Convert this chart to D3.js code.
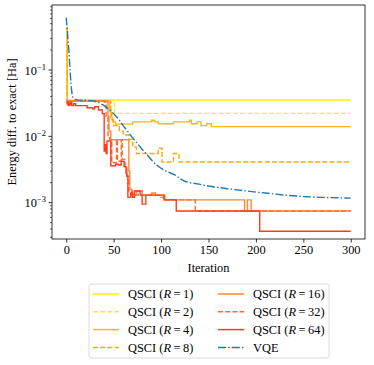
<!DOCTYPE html>
<html>
<head>
<meta charset="utf-8">
<script src="https://cdn.jsdelivr.net/npm/d3@7"></script>
<style>
  body { margin: 0; background: #fff; }
  svg { display: block; font-family: "Liberation Serif", "DejaVu Serif", serif; }
</style>
</head>
<body>
<script>
var shotLabels = [1, 2, 4, 8, 16, 32, 64];
var xTicks = [0, 50, 100, 150, 200, 250, 300];
var yTicks = [1e-3, 1e-2, 1e-1];
var yTickExp = ['\u22123', '\u22122', '\u22121'];

var qsciR1 = [[0, 0.43], [1, 0.0353], [300, 0.0353]];
var qsciR2 = [[0, 0.43], [1, 0.0348], [47, 0.0345], [51, 0.0222], [300, 0.0222]];
var qsciR4 = [[0, 0.43], [1, 0.0345], [45, 0.034], [46, 0.024], [47, 0.019], [49, 0.0165], [52, 0.0153],
  [70, 0.0165], [90, 0.0175], [93, 0.0165], [97, 0.0155], [113, 0.0165], [130, 0.0175], [132, 0.0155],
  [138, 0.0165], [142, 0.0145], [148, 0.0155], [153, 0.014], [300, 0.014]];
var qsciR8 = [[0, 0.43], [1, 0.034], [46, 0.033], [47, 0.025], [48, 0.018], [50, 0.0145], [56, 0.012],
  [60, 0.0105], [66, 0.009], [70, 0.0069], [74, 0.0055], [97, 0.0066], [101, 0.0041], [113, 0.0055],
  [119, 0.0041], [300, 0.0041]];
var qsciR16 = [[0, 0.034], [43, 0.033], [44, 0.02], [45, 0.012], [47, 0.0089], [65, 0.0089], [66, 0.003],
  [67, 0.0016], [69, 0.0013], [74, 0.0015], [80, 0.0013], [90, 0.0014], [94, 0.0013], [104, 0.0011],
  [188, 0.00075], [191, 0.0011], [195, 0.00075], [300, 0.00075]];
var qsciR32 = [[0, 0.034], [40, 0.033], [42, 0.02], [44, 0.0095], [46, 0.0089], [48, 0.004], [53, 0.0089],
  [54, 0.0042], [58, 0.0089], [59, 0.0045], [62, 0.0035], [64, 0.0025], [66, 0.0015], [70, 0.0013],
  [76, 0.0015], [80, 0.0013], [100, 0.0012], [103, 0.0011], [136, 0.00075], [300, 0.00075]];
var qsciR64 = [[0, 0.031], [1, 0.033], [2, 0.029], [3, 0.032], [4, 0.03], [5, 0.033], [6, 0.029], [8, 0.031],
  [10, 0.029], [22, 0.027], [28, 0.026], [30, 0.028], [34, 0.025], [38, 0.022], [40, 0.006], [41, 0.0075],
  [42, 0.0055], [43, 0.0085], [47, 0.0036], [52, 0.0038], [55, 0.0037], [58, 0.0042], [61, 0.0035],
  [63, 0.0028], [64, 0.0025], [65, 0.0012], [68, 0.0014], [70, 0.0012], [72, 0.0015], [78, 0.0013],
  [80, 0.00095], [84, 0.0013], [103, 0.0011], [116, 0.00075], [204, 0.00037], [300, 0.00037]];
var vqe = [[0, 0.62], [1, 0.42], [2, 0.27], [3, 0.18], [4, 0.1], [5, 0.062], [6, 0.045], [7, 0.039],
  [9, 0.036], [12, 0.0355], [20, 0.035], [28, 0.0345], [35, 0.032], [40, 0.029], [46, 0.025], [50, 0.022],
  [55, 0.0185], [60, 0.0145], [65, 0.0118], [70, 0.0095], [75, 0.0078], [80, 0.0064], [85, 0.0053],
  [90, 0.0044], [95, 0.0037], [100, 0.0033], [105, 0.003], [110, 0.0028], [115, 0.0026], [120, 0.0023],
  [125, 0.0021], [130, 0.002], [140, 0.0019], [150, 0.00178], [160, 0.0017], [170, 0.00162],
  [180, 0.00156], [190, 0.0015], [200, 0.00144], [210, 0.0014], [220, 0.00135], [230, 0.0013],
  [240, 0.00127], [250, 0.00124], [260, 0.00122], [270, 0.0012], [280, 0.00119], [290, 0.00118],
  [300, 0.00117]];

var qsciData = [qsciR1, qsciR2, qsciR4, qsciR8, qsciR16, qsciR32, qsciR64];
var qsciColors = ['#ffee00', '#ffe433', '#ffb41a', '#ffaa00', '#ff8833', '#ff6c33', '#ff3a1e'];
var qsciDashed = [false, true, false, true, false, true, false];
var vqeColor = '#1f77b4';

var width = 374, height = 365;
var plotLeft = 52, plotRight = 365, plotTop = 5, plotBottom = 239;
var fontSize = 12.4;

var svg = d3.select('body').append('svg')
    .attr('width', width)
    .attr('height', height);

var x = d3.scaleLinear().domain([-15, 315]).range([plotLeft, plotRight]);
var y = d3.scaleLog().domain([Math.pow(10, -3.548), Math.pow(10, -0.0196)]).range([plotBottom, plotTop]);

svg.append('clipPath').attr('id', 'clip')
  .append('rect')
    .attr('x', plotLeft).attr('y', plotTop)
    .attr('width', plotRight - plotLeft).attr('height', plotBottom - plotTop);

// x axis
var xAxis = svg.append('g')
    .attr('transform', 'translate(0,' + plotBottom + ')')
    .call(d3.axisBottom(x).tickValues(xTicks).tickSize(3.5).tickPadding(3));
xAxis.select('.domain').remove();
xAxis.selectAll('line').attr('stroke', '#000').attr('stroke-width', 0.8);
xAxis.selectAll('text').attr('font-size', fontSize).attr('font-family', '"Liberation Serif", serif').attr('fill', '#000');

// y axis: minor ticks then major ones with 10^n labels
var minor = [];
[-4, -3, -2, -1].forEach(function (e) {
    for (var m = 2; m <= 9; m++) {
        var v = m * Math.pow(10, e);
        if (v >= y.domain()[0] && v <= y.domain()[1]) minor.push(v);
    }
});
var yg = svg.append('g');
yg.selectAll('line.minor')
    .data(minor)
    .enter().append('line')
    .attr('class', 'minor')
    .attr('x1', plotLeft).attr('x2', plotLeft - 2)
    .attr('y1', function (d) { return y(d); })
    .attr('y2', function (d) { return y(d); })
    .attr('stroke', '#000').attr('stroke-width', 0.6);
yg.selectAll('line.major')
    .data(yTicks)
    .enter().append('line')
    .attr('class', 'major')
    .attr('x1', plotLeft).attr('x2', plotLeft - 3.5)
    .attr('y1', function (d) { return y(d); })
    .attr('y2', function (d) { return y(d); })
    .attr('stroke', '#000').attr('stroke-width', 0.8);
var yLab = yg.selectAll('text')
    .data(yTicks)
    .enter().append('text')
    .attr('x', plotLeft - 6)
    .attr('y', function (d) { return y(d) + 4.5; })
    .attr('text-anchor', 'end')
    .attr('font-size', fontSize);
yLab.append('tspan').text('10');
yLab.append('tspan')
    .attr('dy', -5)
    .attr('font-size', 8.5)
    .text(function (d, i) { return yTickExp[i]; });

// lines
var plot = svg.append('g').attr('clip-path', 'url(#clip)');
var stepLine = d3.line()
    .x(function (d) { return x(d[0]); })
    .y(function (d) { return y(d[1]); })
    .curve(d3.curveStepAfter);
var smoothLine = d3.line()
    .x(function (d) { return x(d[0]); })
    .y(function (d) { return y(d[1]); });

plot.selectAll('path.qsci')
    .data(qsciData)
    .enter().append('path')
    .attr('class', 'qsci')
    .attr('d', stepLine)
    .attr('fill', 'none')
    .attr('stroke', function (d, i) { return qsciColors[i]; })
    .attr('stroke-width', 1.4)
    .attr('stroke-dasharray', function (d, i) { return qsciDashed[i] ? '5,2.2' : null; });

plot.append('path')
    .datum(vqe)
    .attr('d', smoothLine)
    .attr('fill', 'none')
    .attr('stroke', vqeColor)
    .attr('stroke-width', 1.4)
    .attr('stroke-dasharray', '8,2.2,1.4,2.2');

// frame
svg.append('rect')
    .attr('x', plotLeft).attr('y', plotTop)
    .attr('width', plotRight - plotLeft).attr('height', plotBottom - plotTop)
    .attr('fill', 'none')
    .attr('stroke', '#000')
    .attr('stroke-width', 0.8);

// axis titles
svg.append('text')
    .attr('x', (plotLeft + plotRight) / 2)
    .attr('y', 272)
    .attr('text-anchor', 'middle')
    .attr('font-size', fontSize)
    .text('Iteration');
svg.append('text')
    .attr('transform', 'translate(16,' + ((plotTop + plotBottom) / 2) + ') rotate(-90)')
    .attr('text-anchor', 'middle')
    .attr('font-size', fontSize)
    .text('Energy diff. to exact [Ha]');

// legend
var legend = svg.append('g');
legend.append('rect')
    .attr('x', 89).attr('y', 284)
    .attr('width', 240).attr('height', 74)
    .attr('rx', 2.5)
    .attr('fill', '#fff')
    .attr('stroke', '#d0d0d0')
    .attr('stroke-width', 0.8);

var entries = shotLabels.map(function (r, i) {
    return { r: r, color: qsciColors[i], dash: qsciDashed[i] ? '5,2.2' : null };
});
entries.push({ r: null, color: vqeColor, dash: '8,2.2,1.4,2.2' });

var item = legend.selectAll('g.item')
    .data(entries)
    .enter().append('g')
    .attr('class', 'item')
    .attr('transform', function (d, i) {
        var col = i < 4 ? 0 : 1, row = i % 4;
        return 'translate(' + (col === 0 ? 93 : 218) + ',' + (294 + row * 17.8) + ')';
    });
item.append('line')
    .attr('x1', 0).attr('x2', 26)
    .attr('stroke', function (d) { return d.color; })
    .attr('stroke-width', 1.5)
    .attr('stroke-dasharray', function (d) { return d.dash; });
var label = item.append('text')
    .attr('x', 35)
    .attr('y', 4.3)
    .attr('font-size', fontSize);
label.each(function (d) {
    var t = d3.select(this);
    if (d.r === null) { t.text('VQE'); return; }
    t.append('tspan').text('QSCI (');
    t.append('tspan').attr('font-style', 'italic').text('R');
    t.append('tspan').text('\u2009=\u2009' + d.r + ')');
});
</script>
</body>
</html>
